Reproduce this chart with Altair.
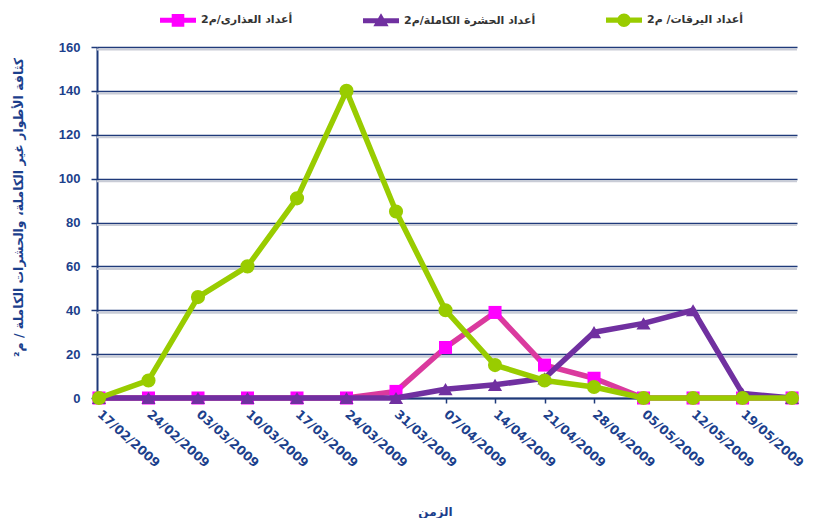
import json
import altair as alt
import pandas as pd

# ---------------- data ----------------
dates = ["17/02/2009", "24/02/2009", "03/03/2009", "10/03/2009", "17/03/2009",
         "24/03/2009", "31/03/2009", "07/04/2009", "14/04/2009", "21/04/2009",
         "28/04/2009", "05/05/2009", "12/05/2009", "19/05/2009"]
point_index = list(range(15))
pupae = [0, 0, 0, 0, 0, 0, 3, 23, 39, 15, 9, 0, 0, 0, 0]
adults = [0, 0, 0, 0, 0, 0, 0, 4, 6, 9, 30, 34, 40, 2, 0]
larvae = [0, 8, 46, 60, 91, 140, 85, 40, 15, 8, 5, 0, 0, 0, 0]

series_names = ["أعداد العذارى/م2", "أعداد الحشرة الكاملة/م2", "أعداد اليرقات/ م2"]
series_values = [pupae, adults, larvae]
y_ticks = [0, 20, 40, 60, 80, 100, 120, 140, 160]
y_title = "كثافة الأطوار غير الكاملة، والحشرات الكاملة / م²"
x_title = "الزمن"

# ---------------- styles ----------------
line_colors = ["#DA3A9E", "#7030A0", "#99CC00"]
marker_colors = ["#FF00FF", "#7030A0", "#99CC00"]
marker_shapes = ["square", "triangle-up", "circle"]
marker_sizes = [170, 200, 200]
navy = "#1F3A7A"
label_navy = "#1C3F8C"

line_bar = "M-2,-0.28L2,-0.28L2,0.28L-2,0.28Z"
legend_paths = [
    line_bar + " M-0.7,-0.7L0.7,-0.7L0.7,0.7L-0.7,0.7Z",
    line_bar + " M0,-0.85L0.85,0.6L-0.85,0.6Z",
    line_bar + " M-0.75,0A0.75,0.75 0 1,1 0.75,0A0.75,0.75 0 1,1 -0.75,0Z",
]

rows = []
for name, vals in zip(series_names, series_values):
    for i, v in zip(point_index, vals):
        rows.append({"idx": i, "value": v, "series": name})
df = pd.DataFrame(rows)
grid_df = pd.DataFrame({"value": y_ticks[1:]})

label_expr = json.dumps(dates) + "[datum.value]"

x_scale = alt.Scale(domain=[-0.04, 14.1], nice=False, zero=False)
y_scale = alt.Scale(domain=[0, 160], nice=False)

x_enc = alt.X(
    "idx:Q",
    scale=x_scale,
    axis=alt.Axis(
        values=list(range(14)), labelExpr=label_expr, labelAngle=42,
        labelAlign="left", labelBaseline="middle", labelPadding=9,
        labelFont="DejaVu Sans", labelFontWeight="bold", labelFontSize=12.5,
        labelColor=label_navy, grid=False, domainColor=navy, domainWidth=2,
        tickColor=navy, tickWidth=1.5, tickSize=5, labelOverlap=False,
        title=x_title, titleFont="DejaVu Sans", titleFontWeight="bold",
        titleFontSize=12, titleColor=label_navy, titleX=338, titleY=113,
        titleAlign="center", titleBaseline="middle", titleAnchor=None,
    ),
)
y_axis = alt.Axis(
    values=y_ticks, grid=True, gridColor=navy, gridWidth=1.5,
    domainColor=navy, domainWidth=2, tickColor=navy, tickWidth=1.5,
    tickSize=6, labelFont="Liberation Sans", labelFontWeight="bold",
    labelFontSize=13, labelColor=label_navy, labelPadding=11,
    title=y_title, titleFont="DejaVu Sans", titleFontWeight="bold",
    titleFontSize=12.5, titleColor=label_navy, titleAngle=-90,
    titleX=-79, titleY=160, titleAlign="center", titleBaseline="middle",
)
y_enc = alt.Y("value:Q", scale=y_scale, axis=y_axis)

base = alt.Chart(df)
layers = []

# soft shadow under the gridlines
layers.append(
    alt.Chart(grid_df).mark_rule(color="#C9CCD6", strokeWidth=2, yOffset=2.5).encode(y=y_enc)
)

# invisible layer that only carries the legend
legend_layer = base.mark_point(filled=True, opacity=1).encode(
    x=x_enc, y=y_enc,
    color=alt.Color("series:N", scale=alt.Scale(domain=series_names, range=marker_colors),
                    legend=alt.Legend(
                        orient="none", legendX=72, legendY=-36, direction="horizontal",
                        title=None, symbolSize=324, symbolOpacity=1, symbolStrokeWidth=0,
                        labelFont="DejaVu Sans", labelFontWeight="bold", labelFontSize=11,
                        labelColor="#333333", labelOffset=14, columnPadding=70,
                    )),
    shape=alt.Shape("series:N", scale=alt.Scale(domain=series_names, range=legend_paths)),
).transform_filter("false")
layers.append(legend_layer)

for name, lc, mc, shp, sz in zip(series_names, line_colors, marker_colors, marker_shapes, marker_sizes):
    sub = base.transform_filter(alt.datum.series == name)
    layers.append(sub.mark_line(color=lc, strokeWidth=5.5, strokeJoin="round").encode(x=x_enc, y=y_enc))
    layers.append(sub.mark_point(filled=True, color=mc, shape=shp, size=sz, opacity=1).encode(x=x_enc, y=y_enc))

chart = alt.layer(*layers).properties(
    width=700, height=351,
    autosize=alt.AutoSizeParams(type="none"),
    padding={"left": 89, "top": 39, "right": 14, "bottom": 120},
    background="white",
).configure_view(strokeWidth=0)

chart.save("out.html", embed_options={"renderer": "svg", "actions": False})
